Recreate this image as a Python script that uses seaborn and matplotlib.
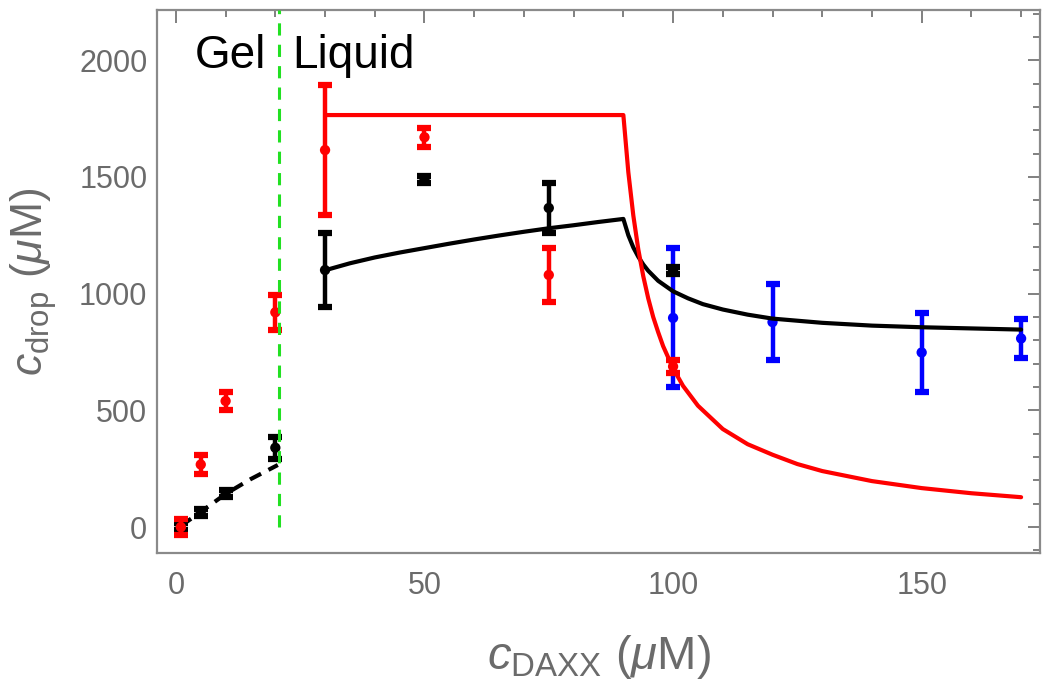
import numpy as np
import pandas as pd
import matplotlib
matplotlib.use("Agg")
import matplotlib.pyplot as plt
from matplotlib.ticker import MultipleLocator
import seaborn as sns

sns.set_theme(style="white")
plt.rcParams['font.family'] = ['Liberation Sans', 'DejaVu Sans']
plt.rcParams['mathtext.fontset'] = 'custom'
plt.rcParams['mathtext.rm'] = 'Liberation Sans'
plt.rcParams['mathtext.it'] = 'Liberation Sans:italic'

# measured points: concentration (uM), value, error
red_x = [1, 5, 10, 20, 30, 50, 75, 100]
red_y = [0, 268, 540, 920, 1615, 1670, 1080, 688]
red_err = [35, 40, 40, 75, 280, 40, 115, 28]

black_x = [1, 5, 10, 20, 30, 50, 75, 100]
black_y = [2, 64, 146, 340, 1101, 1487, 1367, 1101]
black_err = [15, 15, 15, 48, 157, 15, 107, 15]

blue_x = [100, 120, 150, 170]
blue_y = [896, 878, 748, 808]
blue_err = [298, 162, 170, 84]

# model curves
red_curve_x = [30, 90, 91, 92, 93, 94, 95, 96, 97, 98, 100, 102, 105, 108, 110, 115, 120, 125, 130, 140, 150, 160, 170]
red_curve_y = [1765, 1765, 1520, 1335, 1190, 1075, 980, 900, 835, 775, 680, 605, 520, 460, 420, 355, 310, 270, 240, 197, 167, 145, 128]

black_curve_x = [30, 35, 40, 45, 50, 55, 60, 65, 70, 75, 80, 85, 90, 91, 92, 93, 94, 95, 97, 100, 103, 106, 110, 115, 120, 130, 140, 150, 160, 170]
black_curve_y = [1100, 1130, 1155, 1176, 1195, 1214, 1232, 1249, 1265, 1280, 1293, 1307, 1320, 1250, 1198, 1158, 1125, 1098, 1055, 1010, 980, 955, 932, 910, 893, 875, 863, 856, 851, 846]

gel_x = [1, 5, 10, 15, 20.5]
gel_y = [5, 65, 142, 205, 266]

boundary_x = 20.7

red = '#ff0000'
blue = '#0000ff'
green = '#22e022'
gray = '#6b6b6b'

fig = plt.figure(figsize=(10.5, 6.88), dpi=100)
ax = fig.add_axes([157/1050, 1-553/688, (1040-157)/1050, (553-10)/688])

def bars(x, y, e, c, z):
    ax.errorbar(x, y, yerr=e, fmt='none', ecolor=c, elinewidth=3.2, capsize=5, capthick=4.5, zorder=z)
    sns.scatterplot(x=x, y=y, color=c, s=55, edgecolor='none', ax=ax, zorder=z + 0.1)

bars(blue_x, blue_y, blue_err, blue, 2)

sns.lineplot(x=black_curve_x, y=black_curve_y, color='black', lw=3, ax=ax, sort=False, zorder=3)
sns.lineplot(x=red_curve_x, y=red_curve_y, color=red, lw=3, ax=ax, sort=False, zorder=3.5)
sns.lineplot(x=gel_x, y=gel_y, color='black', lw=3, ax=ax, sort=False, zorder=3, linestyle=(0, (3, 2)))

bars(black_x, black_y, black_err, 'black', 4)
bars(red_x, red_y, red_err, red, 4.5)

ax.vlines(boundary_x, 0, 2215, colors=green, linestyles=(0, (4, 3)), lw=2.2, zorder=5)

ax.text(3.8, 1965, 'Gel', fontsize=33, color='black', ha='left', va='baseline')
ax.text(23.4, 1965, 'Liquid', fontsize=33, color='black', ha='left', va='baseline')

ax.set_xlim(-3.8, 173.8)
ax.set_ylim(-111, 2215)
ax.xaxis.set_major_locator(MultipleLocator(50))
ax.xaxis.set_minor_locator(MultipleLocator(10))
ax.yaxis.set_major_locator(MultipleLocator(500))
ax.yaxis.set_minor_locator(MultipleLocator(100))
ax.tick_params(which='both', direction='in', top=True, right=True, color=gray, labelcolor=gray, width=1.2)
ax.tick_params(which='major', length=9, labelsize=22)
ax.tick_params(which='minor', length=5)
ax.tick_params(axis='x', which='major', pad=13)
ax.tick_params(axis='y', which='major', pad=7)
for s in ax.spines.values():
    s.set_color('#8a8a8a')
    s.set_linewidth(1.6)

ax.set_xlabel(r'$c_{\mathrm{DAXX}}$ ($\mu$M)', fontsize=34, color=gray, va='center')
ax.set_ylabel(r'$c_{\mathrm{drop}}$ ($\mu$M)', fontsize=32, color=gray, va='center')
ax.xaxis.set_label_coords(0.5, (553-657)/543)
ax.yaxis.set_label_coords((34-157)/883, 0.5)

fig.savefig('out.png', dpi=100)
